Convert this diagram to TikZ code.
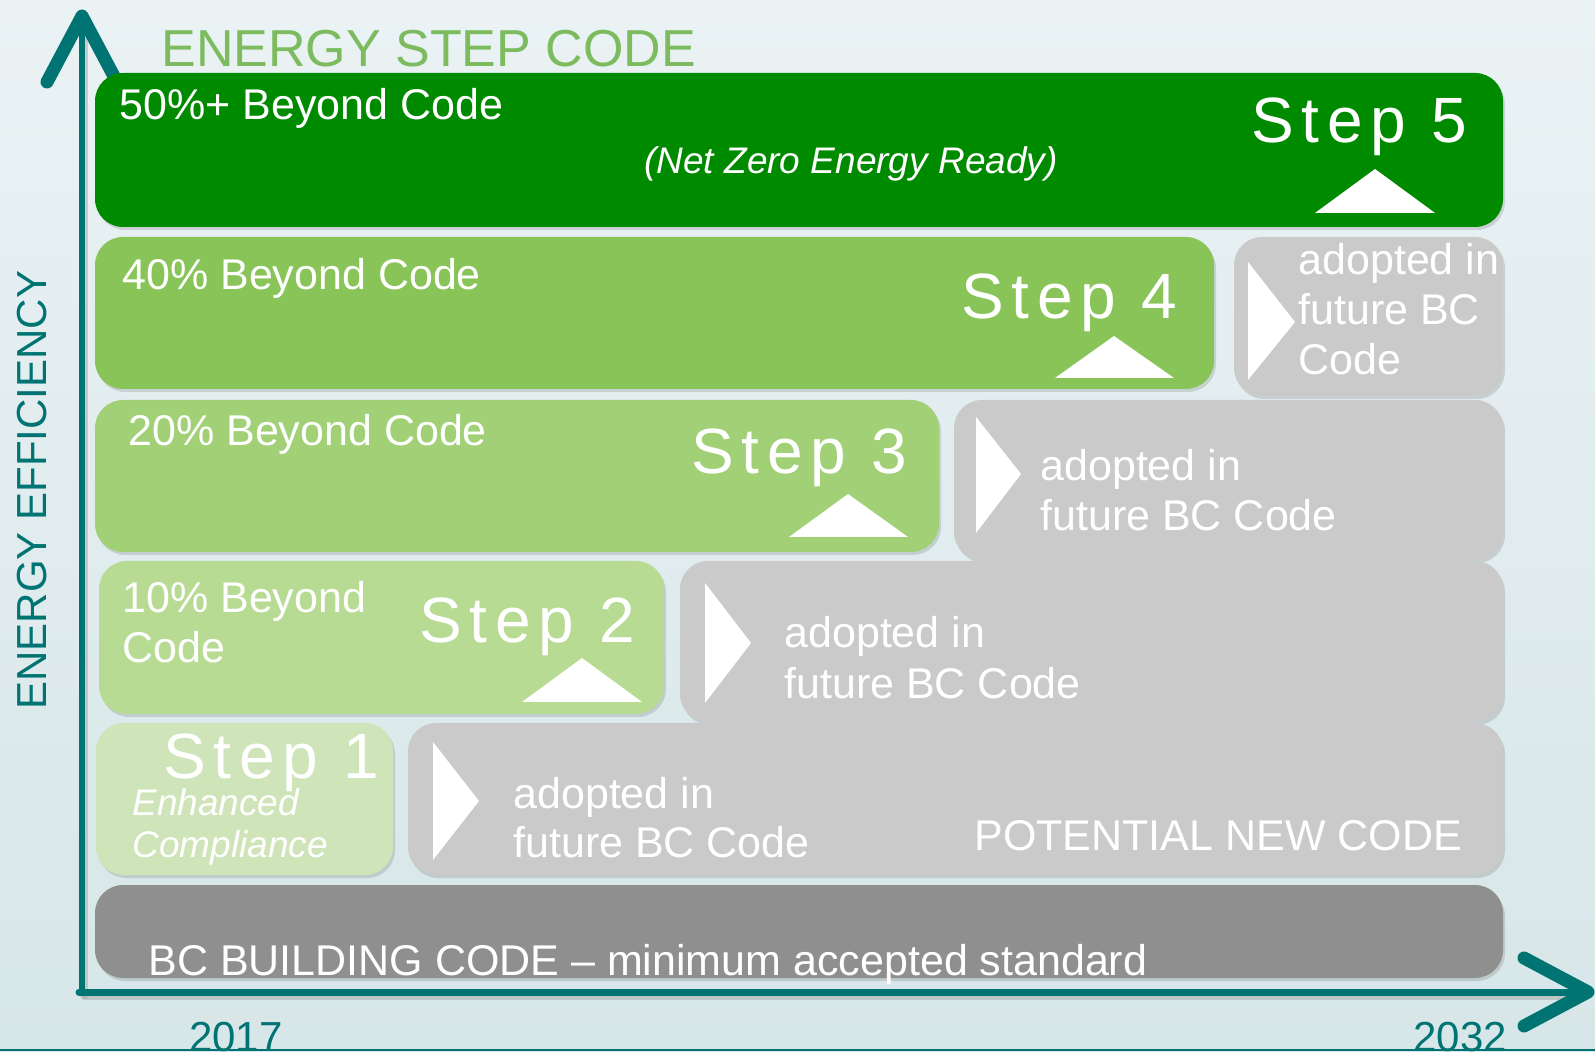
\documentclass[tikz,border=0pt]{standalone}
\usepackage{fontspec}
\setmainfont{Liberation Sans}
\newfontfamily\stepfont[LetterSpace=12]{Liberation Sans}
\usetikzlibrary{fit,shadows}
\definecolor{bgtop}{HTML}{EAF2F4}
\definecolor{bgbot}{HTML}{D7E6E8}
\definecolor{axisteal}{HTML}{007373}
\definecolor{titlegreen}{HTML}{7DBB5F}
\definecolor{gfive}{HTML}{008A00}
\definecolor{gfour}{HTML}{89C458}
\definecolor{gthree}{HTML}{A2D077}
\definecolor{gtwo}{HTML}{B8DB94}
\definecolor{gone}{HTML}{CFE5B9}
\definecolor{greybox}{HTML}{CACACA}
\definecolor{codebox}{HTML}{8F8F8F}
\begin{document}
\begin{tikzpicture}[x=0.5pt,y=-0.5pt,
  box/.style={inner sep=0pt, rounded corners=14pt, draw=none,
    drop shadow={opacity=0.12, shadow xshift=1pt, shadow yshift=-1.5pt, fill=black}},
  lbl/.style={inner sep=0pt, anchor=base west, text=white, font=\fontsize{21.5}{25}\selectfont},
  ital/.style={inner sep=0pt, anchor=base west, text=white, font=\fontsize{18.5}{22}\selectfont\itshape},
  steplbl/.style={inner sep=0pt, anchor=base west, text=white, font=\stepfont\fontsize{32}{36}\selectfont},
  tri/.style={fill=white, draw=none},
  axisline/.style={draw=axisteal, line cap=round, line join=round},
  yearlbl/.style={inner sep=0pt, anchor=base, text=axisteal, font=\fontsize{21}{24}\selectfont}]
\useasboundingbox (0,0) rectangle (1595,1052);
\clip (0,0) rectangle (1595,1052);
% background
\fill[top color=bgtop, bottom color=bgbot] (0,0) rectangle (1595,1052);
\draw[axisteal, line width=1.2pt] (0,1050) -- (1595,1050);

% axes
\coordinate (origin) at (82,993);
\coordinate (ytip) at (82,16);
\coordinate (xtip) at (1588,992);
\draw[axisline, line width=3pt, black!35, opacity=0.5] (85,996) -- (85,30);
\draw[axisline, line width=3pt] (origin) -- (ytip);
\draw[axisline, line width=6.5pt] (47,82) -- (ytip) -- (117,82);
\draw[axisline, line width=3.5pt, black!35, opacity=0.5] (84,996) -- (1575,996);
\draw[axisline, line width=3.5pt] (79,992) -- (xtip);
\draw[axisline, line width=6.5pt] (1524,958) -- (xtip) -- (1524,1026);

% title
\node[inner sep=0pt, anchor=base west, text=titlegreen, font=\fontsize{26}{30}\selectfont] (title) at (161,67) {ENERGY STEP CODE};
\node[inner sep=0pt, rotate=90, text=axisteal, font=\fontsize{21}{24}\selectfont] (ylabel) at (32,490) {ENERGY EFFICIENCY};

% Step 5
\node[box, fill=gfive, fit={(95,73) (1503,227)}] (s5) {};
\node[lbl] (s5a) at (119,120) {50\%+ Beyond Code};
\node[inner sep=0pt, anchor=base, text=white, font=\fontsize{18.5}{22}\selectfont\itshape] (s5b) at (851,174) {(Net Zero Energy Ready)};
\node[steplbl] (s5l) at (1251,143) {Step 5};
\fill[tri] (1315,213) -- (1375,169) -- (1435,213) -- cycle;

% Step 4
\node[box, fill=gfour, fit={(95,237) (1214,389)}] (s4) {};
\node[lbl] (s4a) at (122,290) {40\% Beyond Code};
\node[steplbl] (s4l) at (961,319) {Step 4};
\fill[tri] (1055,378) -- (1114,336) -- (1174,378) -- cycle;
\node[box, fill=greybox, fit={(1234,237) (1503,396)}] (a4) {};
\fill[tri] (1248,262) -- (1295,322) -- (1248,380) -- cycle;
\node[lbl] (a4a) at (1298,275) {adopted in};
\node[lbl] (a4b) at (1298,325) {future BC};
\node[lbl] (a4c) at (1298,375) {Code};

% Step 3
\node[box, fill=gthree, fit={(95,400) (939,552)}] (s3) {};
\node[lbl] (s3a) at (128,446) {20\% Beyond Code};
\node[steplbl] (s3l) at (691,474) {Step 3};
\fill[tri] (789,537) -- (848,494) -- (908,537) -- cycle;
\node[box, fill=greybox, fit={(954,400) (1503,560)}] (a3) {};
\fill[tri] (976,417) -- (1021,474) -- (976,533) -- cycle;
\node[lbl] (a3a) at (1040,481) {adopted in};
\node[lbl] (a3b) at (1040,531) {future BC Code};

% Step 2
\node[box, fill=gtwo, fit={(99,561) (664,714)}] (s2) {};
\node[lbl] (s2a) at (122,613) {10\% Beyond};
\node[lbl] (s2b) at (122,663) {Code};
\node[steplbl] (s2l) at (419,643) {Step 2};
\fill[tri] (522,702) -- (582,658) -- (642,702) -- cycle;
\node[box, fill=greybox, fit={(680,561) (1503,722)}] (a2) {};
\fill[tri] (705,583) -- (751,643) -- (705,703) -- cycle;
\node[lbl] (a2a) at (784,648) {adopted in};
\node[lbl] (a2b) at (784,699) {future BC Code};

% Step 1
\node[box, fill=gone, fit={(96,723) (393,875)}] (s1) {};
\node[box, fill=greybox, fit={(408,723) (1503,875)}] (a1) {};
\node[steplbl] (s1l) at (163,778) {Step 1};
\node[ital] (s1a) at (132,815) {Enhanced};
\node[ital] (s1b) at (132,857) {Compliance};
\fill[tri] (433,742) -- (479,801) -- (433,860) -- cycle;
\node[lbl] (a1a) at (513,808) {adopted in};
\node[lbl] (a1b) at (513,857) {future BC Code};
\node[lbl] (pnc) at (974,850) {POTENTIAL NEW CODE};

% BC building code
\node[box, fill=codebox, fit={(95,885) (1503,978)}] (bc) {};
\node[lbl] (bct) at (148,975) {BC BUILDING CODE -- minimum accepted standard};

% years
\node[yearlbl] (y2017) at (236,1051) {2017};
\node[yearlbl] (y2032) at (1460,1051) {2032};
\end{tikzpicture}
\end{document}
